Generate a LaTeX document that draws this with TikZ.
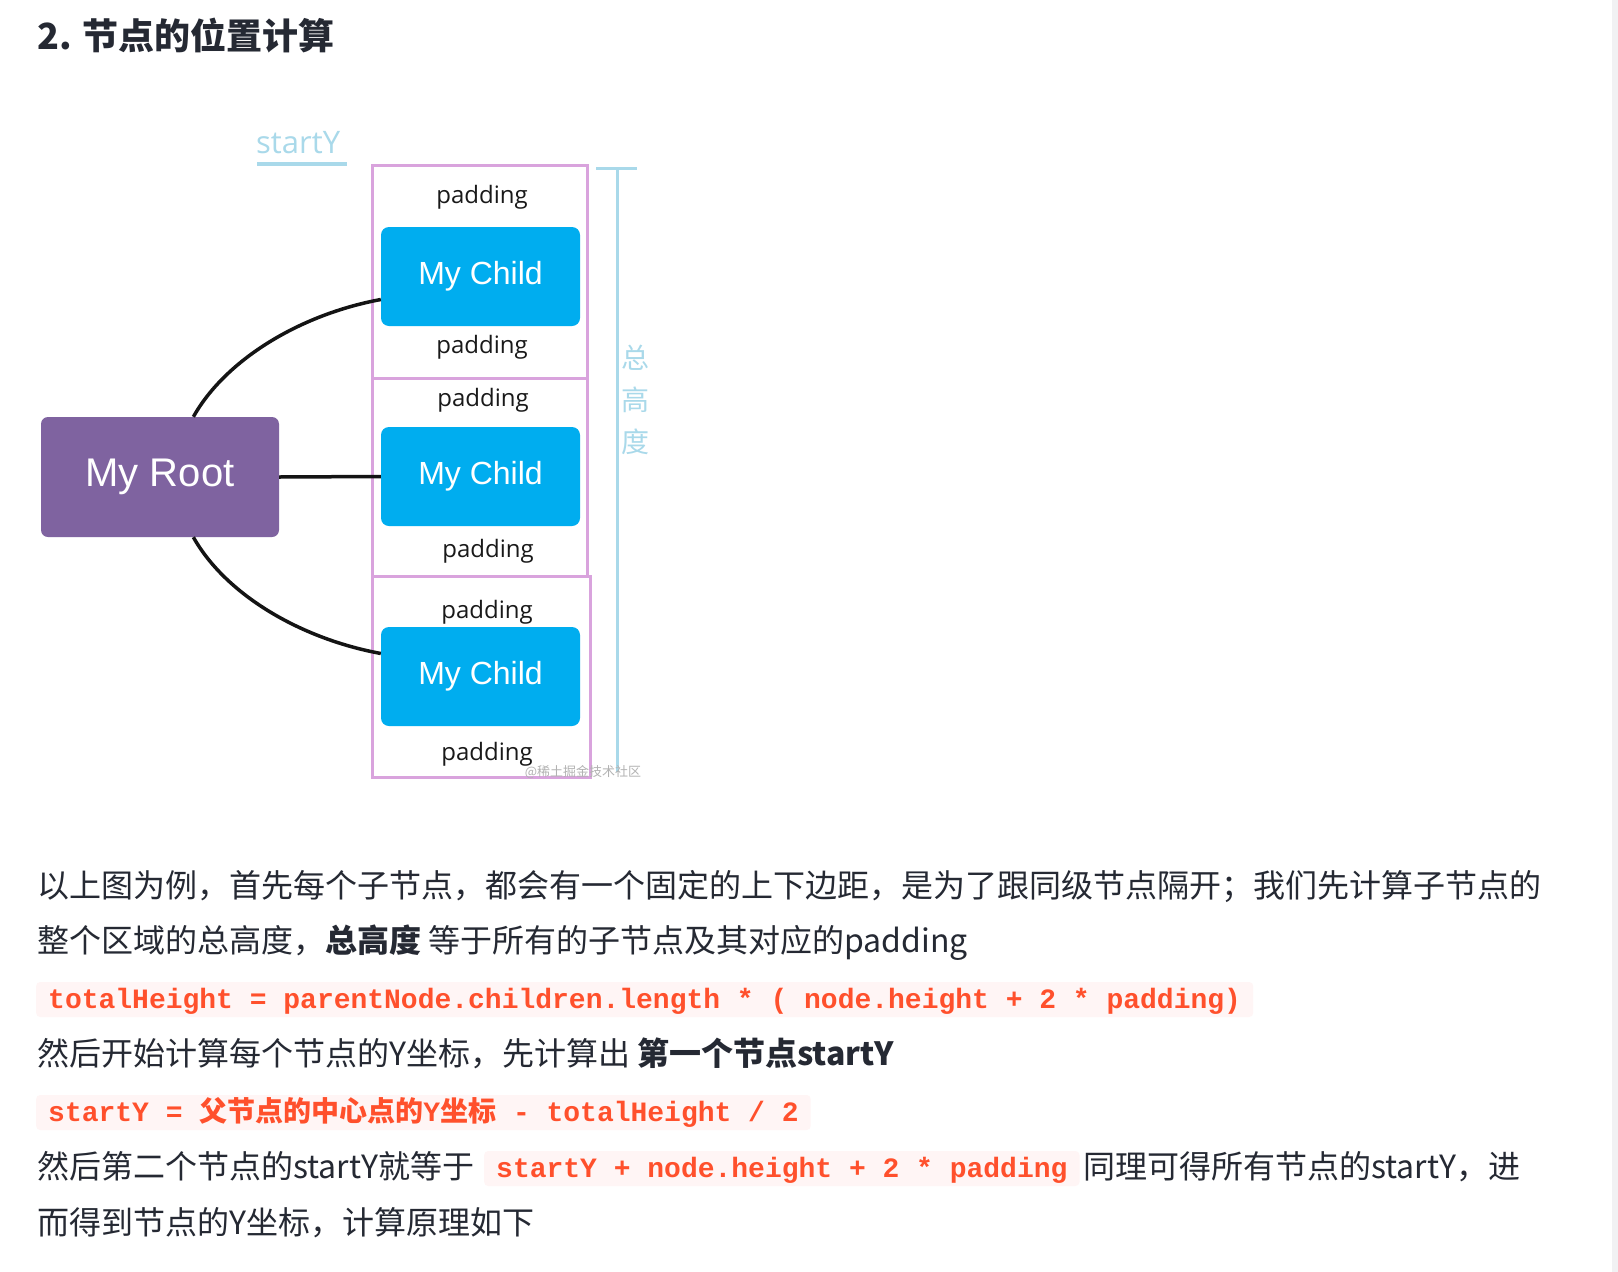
\documentclass[tikz,border=0pt]{standalone}
\usepackage{fontspec}
\setmainfont{Noto Sans CJK SC}
\newfontfamily\cjkfont{Noto Sans CJK SC}
\newfontfamily\arialfont{Liberation Sans}
\newfontfamily\humanfont{Open Sans}
\newfontfamily\codefont{Liberation Mono}
\usetikzlibrary{calc}
\definecolor{rootpurple}{HTML}{7F63A0}
\definecolor{childblue}{HTML}{00ADEF}
\definecolor{slotpink}{HTML}{D9A3DD}
\definecolor{markblue}{HTML}{A9D9EA}
\definecolor{inktext}{HTML}{252933}
\definecolor{codefg}{HTML}{FF502C}
\definecolor{codebg}{HTML}{FFF5F5}
\definecolor{edgegray}{HTML}{F1F1F3}
\begin{document}
\begin{tikzpicture}[x=1pt,y=-1pt,
  rootbox/.style={fill=rootpurple, rounded corners=7pt, minimum width=238pt, minimum height=120pt, text=white, font=\arialfont\fontsize{40}{40}\selectfont, inner sep=0pt},
  childbox/.style={fill=childblue, rounded corners=8pt, minimum width=199pt, minimum height=99pt, text=white, font=\arialfont\fontsize{32}{32}\selectfont, inner sep=0pt},
  slot/.style={draw=slotpink, line width=3pt, inner sep=0pt},
  padlbl/.style={font=\humanfont\fontsize{24}{24}\selectfont, text=black!90, inner sep=0pt},
  conn/.style={draw=black!92, line width=3.5pt},
  bodytext/.style={anchor=base west, inner sep=0pt, text=inktext, font=\fontsize{32}{32}\selectfont},
  codechip/.style={anchor=base west, fill=codebg, text=codefg, rounded corners=4pt, inner xsep=12pt, inner ysep=0pt, text height=26pt, text depth=9pt, font=\codefont\bfseries\fontsize{28}{28}\selectfont},
  markline/.style={draw=markblue, line width=3pt},
]
\useasboundingbox (0,0) rectangle (1618,1272);
\fill[white] (0,0) rectangle (1618,1272);
\fill[edgegray] (1612,0) rectangle (1618,1272);

% title
\node[anchor=base west, inner sep=0pt, text=inktext, font=\bfseries\fontsize{36}{36}\selectfont] (title) at (37,49) {2. 节点的位置计算};

% slots
\node[slot, minimum width=215pt, minimum height=213pt] (p1) at (479.5,271.5) {};
\node[slot, minimum width=215pt, minimum height=198pt] (p2) at (479.5,477) {};
\node[slot, minimum width=218pt, minimum height=201pt] (p3) at (481,676.5) {};

% children
\node[childbox] (c1) at (480.5,276.5) {My Child};
\node[childbox] (c2) at (480.5,476.5) {My Child};
\node[childbox] (c3) at (480.5,676.5) {My Child};

% root
\node[rootbox] (root) at (160,477) {My Root};

% padding labels
\node[padlbl] (pad1t) at (482,197) {padding};
\node[padlbl] (pad1b) at (482,347) {padding};
\node[padlbl] (pad2t) at (483,400) {padding};
\node[padlbl] (pad2b) at (488,551) {padding};
\node[padlbl] (pad3t) at (487,612) {padding};
\node[padlbl] (pad3b) at (487,754) {padding};

% connectors
\draw[conn] (root.east) -- (c2.west);
\draw[conn] (root.61) .. controls +(32,-57) and +(-81,15) .. (c1.193);
\draw[conn] (root.-61) .. controls +(32,57) and +(-81,-15) .. (c3.167);

% startY marker
\node[anchor=base west, inner sep=0pt, text=markblue, font=\humanfont\fontsize{31}{31}\selectfont] (sy) at (256,153) {startY};
\draw[markline, line width=3.5pt] (257,164) -- (347,164);

% total height bracket
\draw[markline] (596,168) -- (637,168);
\draw[markline] (617,168) -- (617,772);
\node[align=center, inner sep=0pt, text=markblue, font=\fontsize{28}{42}\selectfont] (total) at (635,400) {总\\高\\度};

% watermark
\node[inner sep=0pt, text=gray!60, font=\fontsize{13}{13}\selectfont] (wm) at (583,772) {@稀土掘金技术社区};

% body text
\node[bodytext] (l1) at (37,897) {以上图为例，首先每个子节点，都会有一个固定的上下边距，是为了跟同级节点隔开；我们先计算子节点的};
\node[bodytext] (l2) at (37,952) {整个区域的总高度，{\bfseries 总高度} 等于所有的子节点及其对应的padding};
\node[codechip] (k1) at (36,1008) {totalHeight = parentNode.children.length * ( node.height + 2 * padding)};
\node[bodytext] (l3) at (37,1065) {然后开始计算每个节点的Y坐标，先计算出 {\bfseries 第一个节点startY}};
\node[codechip] (k2) at (36,1121) {startY = {\cjkfont\bfseries 父节点的中心点的}Y{\cjkfont\bfseries 坐标} - totalHeight / 2};
\node[bodytext] (l4a) at (37,1178) {然后第二个节点的startY就等于};
\node[codechip] (k3) at (484,1177) {startY + node.height + 2 * padding};
\node[bodytext] (l4c) at (1083,1178) {同理可得所有节点的startY，进};
\node[bodytext] (l5) at (37,1234) {而得到节点的Y坐标，计算原理如下};
\end{tikzpicture}
\end{document}
